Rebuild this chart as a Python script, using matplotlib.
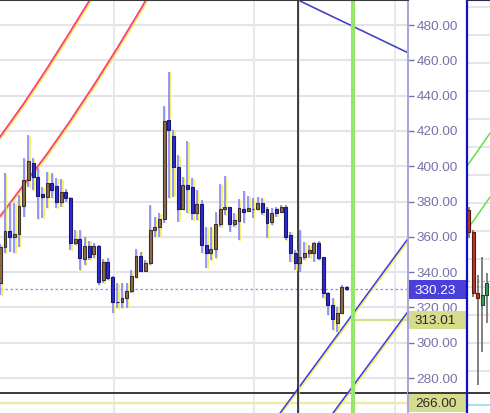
import numpy as np
import matplotlib
matplotlib.use("Agg")
import matplotlib.pyplot as plt
import matplotlib.patheffects as pe
from matplotlib.patches import Rectangle

plt.rcParams['font.family'] = ['Liberation Sans', 'DejaVu Sans']

# main chart candles: open, high, low, close (one per bar index)
opens = [333.7, 354.4, 363.5, 360.1, 361.5, 377.5, 392.2, 401.8, 393.9, 384.3,
         382.8, 390.3, 388.8, 380.0, 385.6, 381.8, 356.3, 358.6, 347.3, 354.8,
         350.3, 354.8, 335.5, 345.9, 337.3, 323.3, 323.3, 325.4, 329.3, 337.4,
         349.2, 340.8, 345.2, 363.9, 365.8, 370.1, 426.2, 417.1, 399.4, 375.6,
         389.4, 388.4, 373.5, 378.6, 355.4, 350.8, 353.1, 367.3, 375.8, 376.9,
         367.3, 369.2, 375.8, 374.8, 375.8, 375.8, 379.2, 375.8, 368.6, 375.8,
         374.3, 376.9, 361.0, 351.0, 345.0, 348.4, 350.7, 351.0, 356.7, 348.4,
         328.4, 321.4, 311.4, 317.0, 331.5]
highs = [356.0, 396.2, 379.9, 379.2, 383.7, 404.7, 417.7, 404.7, 399.0, 388.2,
         396.9, 396.2, 393.3, 392.8, 387.1, 382.8, 363.9, 363.9, 359.9, 357.8,
         356.5, 355.5, 347.5, 348.0, 337.8, 333.8, 333.8, 333.8, 341.2, 353.1,
         351.6, 346.9, 378.0, 371.4, 373.3, 434.1, 453.6, 420.5, 406.4, 394.1,
         414.3, 393.3, 386.5, 380.9, 365.6, 365.6, 374.1, 390.0, 394.5, 377.1,
         373.5, 381.4, 386.1, 383.1, 382.0, 382.8, 382.0, 377.1, 376.3, 376.9,
         378.0, 378.0, 362.9, 352.5, 363.9, 357.3, 355.4, 357.3, 357.8, 348.6,
         328.9, 325.4, 320.4, 332.7, 332.1]
lows = [327.1, 350.8, 351.6, 350.8, 354.4, 371.4, 388.2, 386.6, 370.1, 370.7,
        376.2, 382.0, 376.2, 377.1, 380.0, 352.5, 355.4, 341.2, 344.1, 346.9,
        348.0, 332.7, 333.9, 335.5, 316.8, 319.7, 319.7, 319.9, 328.2, 336.7,
        340.3, 340.3, 344.1, 360.1, 360.1, 368.0, 382.0, 382.8, 368.6, 375.2,
        373.5, 369.5, 369.5, 350.8, 342.3, 346.9, 348.0, 365.6, 372.4, 362.9,
        365.6, 358.2, 367.8, 374.3, 370.7, 375.2, 372.4, 359.3, 366.7, 371.4,
        373.5, 358.2, 345.9, 341.2, 340.3, 346.9, 348.0, 345.9, 346.9, 325.4,
        315.7, 307.2, 306.3, 316.3, 329.5]
closes = [354.4, 363.5, 360.1, 361.5, 377.5, 392.2, 403.0, 393.9, 383.1, 382.8,
          390.3, 386.5, 380.0, 385.6, 381.8, 356.3, 358.6, 347.8, 354.8, 348.8,
          354.8, 334.6, 345.9, 336.5, 323.3, 323.0, 325.4, 329.3, 337.8, 349.2,
          340.8, 345.2, 363.9, 365.8, 370.1, 425.6, 420.5, 399.4, 375.6, 389.4,
          386.9, 373.7, 378.6, 355.4, 350.8, 353.1, 367.3, 375.8, 376.9, 367.3,
          369.5, 376.3, 374.3, 376.3, 376.0, 379.2, 374.3, 368.0, 373.5, 373.7,
          377.1, 360.1, 351.0, 345.0, 348.8, 351.0, 352.5, 356.3, 347.9, 328.4,
          321.4, 313.5, 317.0, 331.8, 330.23]

# side panel candles
side_open = [375.2, 362.9, 328.0, 321.4, 327.1]
side_high = [377.1, 363.9, 338.4, 348.6, 339.5]
side_low = [359.2, 326.1, 276.1, 294.9, 311.2]
side_close = [362.9, 328.0, 325.2, 327.1, 333.8]

# drawn objects (bar index, price)
arc_upper_x = [-0.1, 5, 10, 15, 20, 22]
arc_upper_y = [416.5, 435.5, 455.5, 476.5, 498.0, 507.0]
arc_lower_x = [-0.1, 5, 10, 15, 20, 25, 30, 33]
arc_lower_y = [371.5, 389.5, 407.0, 426.0, 446.0, 467.0, 489.0, 503.0]
line_down = ([63.6, 87.2], [494.2, 464.2])
line_up_a = ([59.8, 87.2], [260.2, 359.3])
line_up_b = ([71.1, 87.2], [260.2, 318.0])
side_green_a = ([-0.33, 4.7], [400.1, 418.8])
side_green_b = ([-0.33, 4.7], [363.9, 382.6])

last_price = 330.23
level_mid = 313.01
level_low = 266.00
black_level = 271.5
side_price = 335.2
vline_black = 63.55
vline_green = 75.4
grid_x = [24.3, 54.3, 84.3]
ticks = np.arange(280, 481, 20)

YLIM = (260.2, 494.2)
W, H = 490, 413

fig = plt.figure(figsize=(W / 100, H / 100), dpi=100)
ax = fig.add_axes([0, 0, 408 / W, 1])
ax.set_xlim(-0.064, 87.12)
ax.set_ylim(*YLIM)
ax.set_facecolor("white")

yshadow = [pe.SimpleLineShadow(offset=(1, -0.5), shadow_color="#eeee44", alpha=0.9), pe.Normal()]

for g in ticks:
    ax.axhline(g, color="#e3e3ea", lw=1.5, zorder=0)
for g in grid_x:
    ax.axvline(g, color="#e8e8f0", lw=1.5, zorder=0)

ax.axhline(level_low, color="#e8eca6", lw=1.6, zorder=1)
ax.axhline(last_price, color="#8c8cf2", lw=0.9, ls=(0, (2, 2)), zorder=1)
ax.axhline(black_level, color="#2a2a2a", lw=1.3, zorder=2)
ax.plot([vline_green + 0.6, 88], [level_mid, level_mid], color="#d5dc8c", lw=1.6, zorder=1)

ax.plot(arc_upper_x, arc_upper_y, color="#ff3c82", lw=1.3, zorder=2, path_effects=yshadow)
ax.plot(arc_lower_x, arc_lower_y, color="#ff3c82", lw=1.3, zorder=2, path_effects=yshadow)
for lx, ly in (line_down, line_up_a, line_up_b):
    ax.plot(lx, ly, color="#3a3ae8", lw=1.1, zorder=2, path_effects=yshadow)

ax.axvline(vline_green, color="#96e66c", lw=3, zorder=2)
ax.axvline(vline_black, color="#1c1c3c", lw=1.2, zorder=2, path_effects=yshadow)

# candles
idx = np.arange(len(opens))
o = np.array(opens); h = np.array(highs); l = np.array(lows); c = np.array(closes)
up = c >= o
ax.vlines(idx, l, h, color="#8484ff", lw=1.2, zorder=3, path_effects=yshadow)
ax.bar(idx[up], (c - o)[up], bottom=o[up], width=0.62, color="#8e6e44",
       edgecolor="#3c3030", lw=0.8, zorder=4)
ax.bar(idx[~up], (o - c)[~up], bottom=c[~up], width=0.62, color="#2c2cd4",
       edgecolor="#181870", lw=0.8, zorder=4)

for side in ("left", "bottom"):
    ax.spines[side].set_visible(False)
ax.spines["top"].set_color("#3a3a3a")
ax.spines["top"].set_linewidth(1.5)
ax.spines["right"].set_color("#a8a8dc")
ax.spines["right"].set_linewidth(1.5)
ax.set_xticks([])
ax.set_yticks(ticks)
ax.set_yticklabels([f"{t:.2f}" for t in ticks])
ax.yaxis.tick_right()
ax.tick_params(axis="y", direction="out", length=4, width=1, pad=2.2,
               colors="#7474a8", labelsize=9.7)

# price label column
lab = fig.add_axes([408 / W, 0, 58 / W, 1])
lab.set_xlim(0, 1)
lab.set_ylim(*YLIM)
lab.axis("off")
lab.patch.set_alpha(0)
lab.axhline(black_level, color="#2a2a2a", lw=1.3, zorder=1)
box_h = 10.4
for val, face, tc in ((last_price, "#4a40d8", "white"),
                      (level_mid, "#d6dc8c", "#2a2a2a"),
                      (level_low, "#d6dc8c", "#2a2a2a")):
    lab.add_patch(Rectangle((0.02, val - box_h / 2), 0.98, box_h, facecolor=face,
                            edgecolor="none", zorder=2))
    lab.text(0.12, val, f"{val:.2f}", color=tc, fontsize=9.7, va="center_baseline",
             ha="left", zorder=3)

# side panel
sp = fig.add_axes([467 / W, 0, 23 / W, 1])
sp.set_xlim(-0.33, 4.67)
sp.set_ylim(*YLIM)
sp.set_facecolor("white")
for g in np.arange(284.2, 494, 15.87):
    sp.axhline(g, color="#e3e3ea", lw=1.3, zorder=0)
sp.axhline(side_price, color="#f0a8a8", lw=0.9, ls=(0, (2, 2)), zorder=1)
sp.axhline(black_level, color="#2a2a2a", lw=1.3, zorder=1)
sp.axhline(264.7, color="#a8e0f0", lw=1.5, zorder=1)
sp.plot(*side_green_a, color="#66dd44", lw=1.1, zorder=2)
sp.plot(*side_green_b, color="#66dd44", lw=1.1, zorder=2)
si = np.arange(len(side_open))
so = np.array(side_open); sh = np.array(side_high); sl = np.array(side_low); sc = np.array(side_close)
sup = sc >= so
sp.vlines(si, sl, sh, color="#606060", lw=1.1, zorder=3)
sp.bar(si[sup], (sc - so)[sup], bottom=so[sup], width=0.65, color="#3f9a5c",
       edgecolor="#1c4a2c", lw=0.8, zorder=4)
sp.bar(si[~sup], (so - sc)[~sup], bottom=sc[~sup], width=0.65, color="#b23a2c",
       edgecolor="#5a1a10", lw=0.8, zorder=4)
for side in ("right", "bottom"):
    sp.spines[side].set_visible(False)
sp.spines["left"].set_color("#1010c8")
sp.spines["left"].set_linewidth(1.6)
sp.spines["top"].set_color("#2a2a4a")
sp.spines["top"].set_linewidth(1.5)
sp.set_xticks([])
sp.set_yticks([])

fig.savefig("out.png", dpi=100)
